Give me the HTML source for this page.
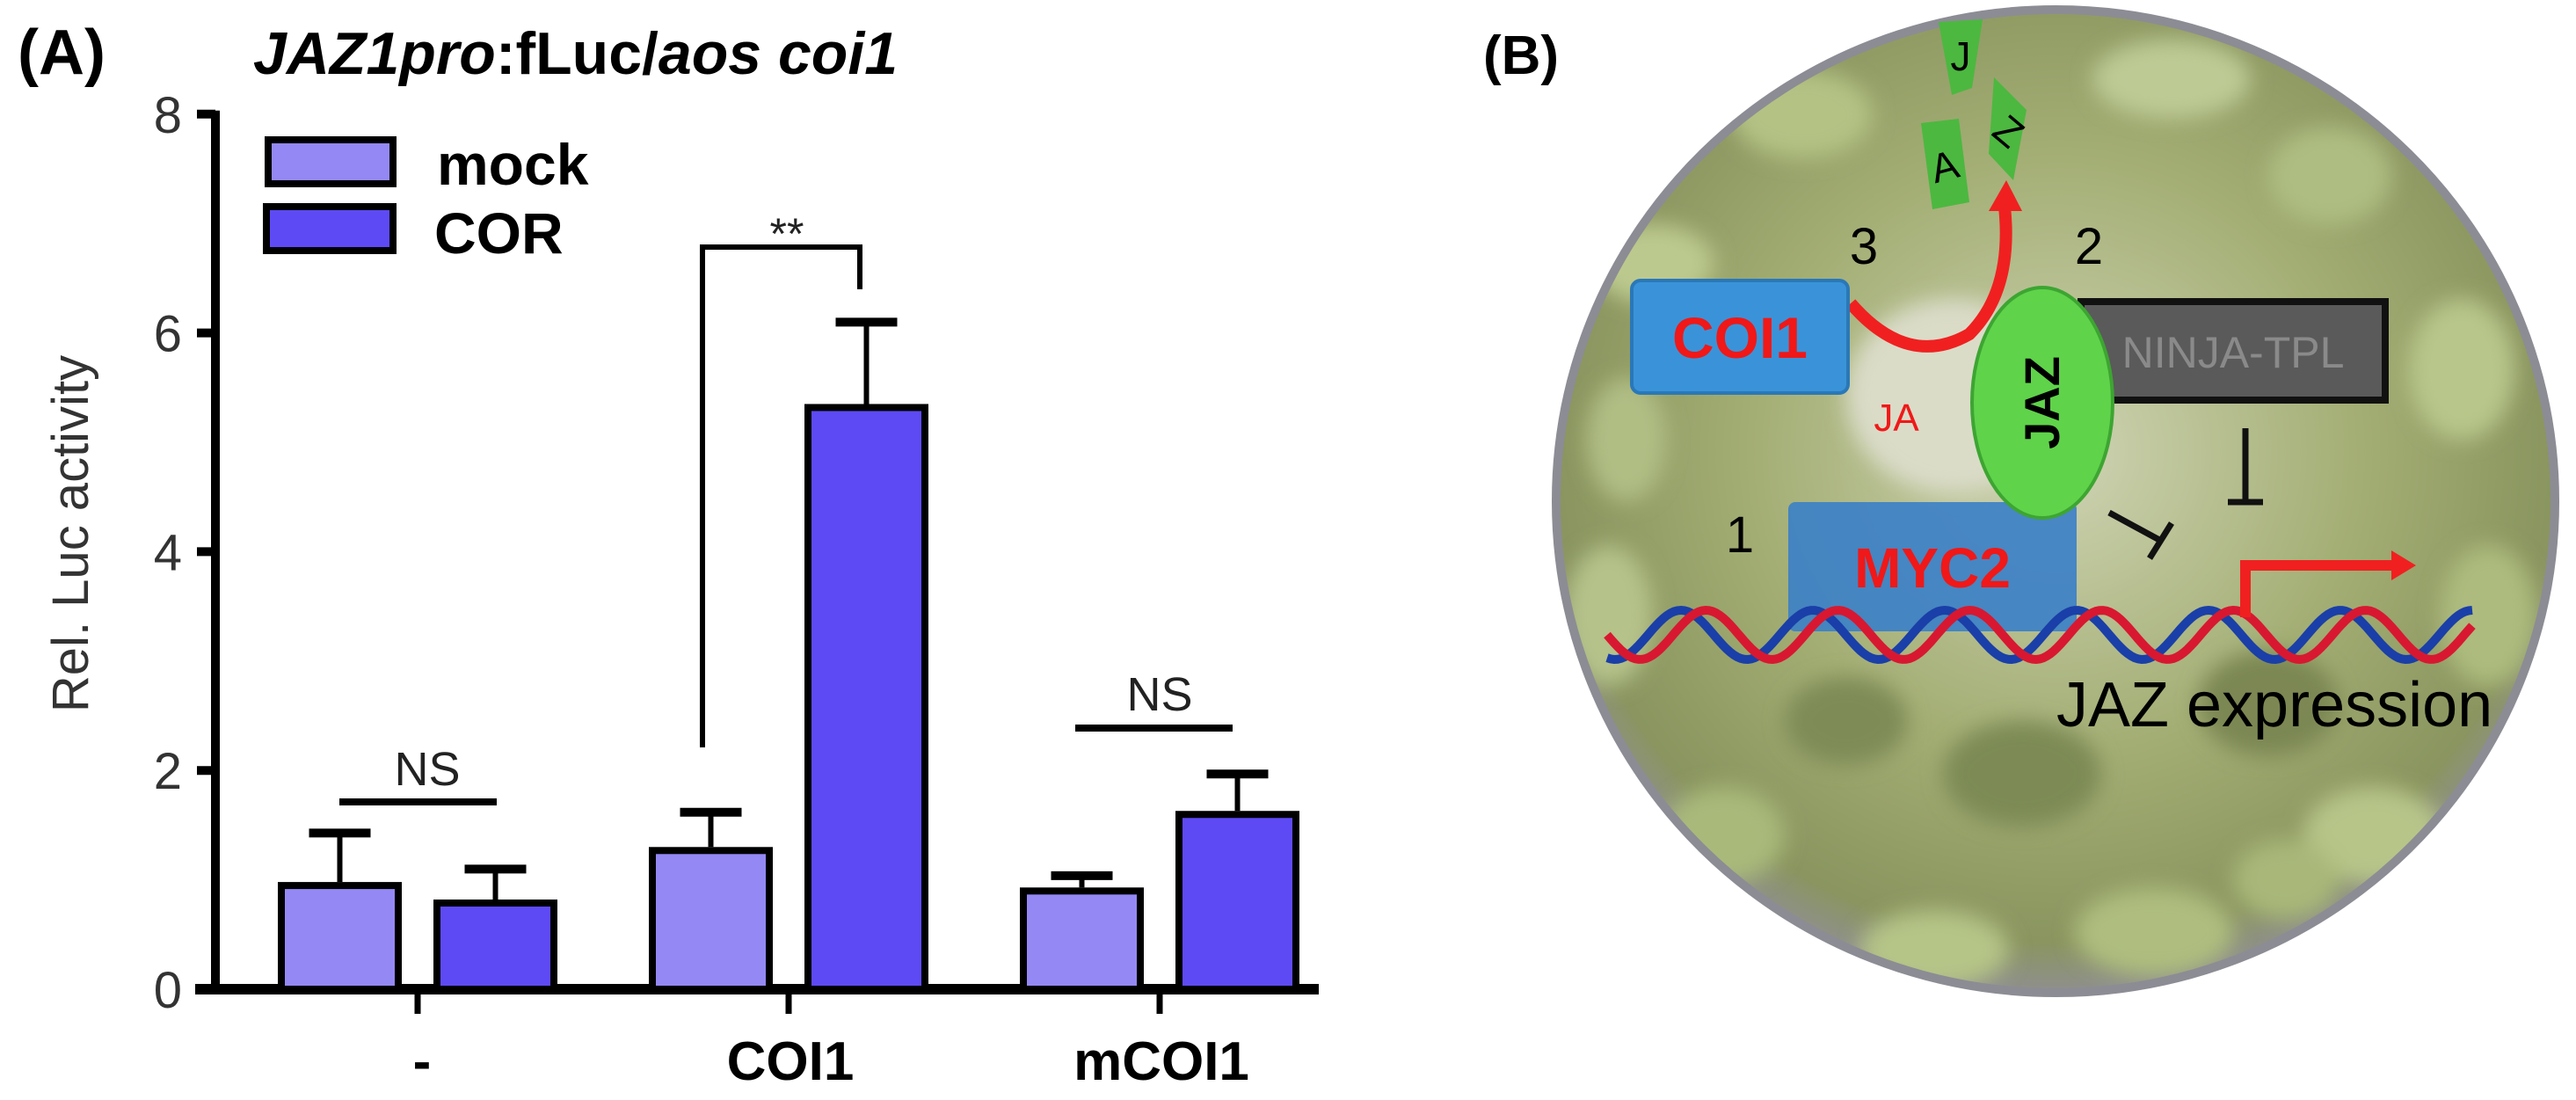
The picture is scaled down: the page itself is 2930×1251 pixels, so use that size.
<!DOCTYPE html>
<html><head><meta charset="utf-8"><style>
html,body{margin:0;padding:0;background:#fff;}
svg{display:block;}
text{font-family:"Liberation Sans",sans-serif;}
</style></head><body>
<svg id="fig" width="2930" height="1251" viewBox="0 0 2930 1251">
<defs>
<radialGradient id="cellbg" cx="50%" cy="45%" r="55%">
<stop offset="0" stop-color="#cfd4b4"/>
<stop offset="0.55" stop-color="#a3ae74"/>
<stop offset="0.9" stop-color="#8a955f"/>
<stop offset="1" stop-color="#8f8f92"/>
</radialGradient>
<filter id="blur"><feGaussianBlur stdDeviation="12"/></filter>
<clipPath id="cellclip"><ellipse cx="2338" cy="570" rx="572" ry="563"/></clipPath>
</defs>

<!-- Panel A -->
<g id="panelA">
<text x="20" y="84" font-size="72" font-weight="bold">(A)</text>
<text x="288" y="84" font-size="68" font-weight="bold"><tspan font-style="italic">JAZ1pro</tspan>:fLuc/<tspan font-style="italic">aos coi1</tspan></text>
<text transform="translate(100,607) rotate(-90)" text-anchor="middle" font-size="58" fill="#333">Rel. Luc activity</text>
<g id="axes"></g>
<g id="bars"></g>
<g id="legend">
<rect x="305" y="159" width="142" height="50" fill="#9488f5" stroke="#000" stroke-width="8"/>
<text x="497" y="210" font-size="66" font-weight="bold">mock</text>
<rect x="303" y="235" width="144" height="50" fill="#5e4af5" stroke="#000" stroke-width="8"/>
<text x="494" y="288" font-size="66" font-weight="bold">COR</text>
</g>
<g id="sig">
<line x1="386" y1="912" x2="565" y2="912" stroke="#000" stroke-width="8"/>
<text x="486" y="893" font-size="54" text-anchor="middle" fill="#222">NS</text>
<polyline points="799,850 799,281 978,281 978,329" fill="none" stroke="#000" stroke-width="6"/>
<text x="895" y="283" font-size="50" text-anchor="middle" fill="#222">**</text>
<line x1="1223" y1="828" x2="1402" y2="828" stroke="#000" stroke-width="8"/>
<text x="1319" y="808" font-size="54" text-anchor="middle" fill="#222">NS</text>
</g>
</g>

<!-- Panel B -->
<g id="panelB">
<text x="1687" y="84" font-size="62" font-weight="bold">(B)</text>
<ellipse cx="2338" cy="570" rx="572" ry="563" fill="url(#cellbg)"/>
<g clip-path="url(#cellclip)" filter="url(#blur)">
<ellipse cx="1880" cy="300" rx="70" ry="45" fill="#bcc98e"/>
<ellipse cx="2050" cy="130" rx="80" ry="50" fill="#b4c284"/>
<ellipse cx="2470" cy="90" rx="90" ry="45" fill="#bdca94"/>
<ellipse cx="2650" cy="200" rx="70" ry="55" fill="#aebd82"/>
<ellipse cx="2800" cy="420" rx="60" ry="80" fill="#b8c68b"/>
<ellipse cx="2830" cy="700" rx="55" ry="80" fill="#adbb7e"/>
<ellipse cx="2700" cy="950" rx="80" ry="55" fill="#b7c589"/>
<ellipse cx="2450" cy="1060" rx="90" ry="50" fill="#afbe7f"/>
<ellipse cx="2200" cy="1080" rx="85" ry="45" fill="#b5c487"/>
<ellipse cx="1960" cy="950" rx="70" ry="55" fill="#a9b97a"/>
<ellipse cx="1830" cy="700" rx="50" ry="80" fill="#b5c28a"/>
<ellipse cx="1850" cy="500" rx="45" ry="70" fill="#b0be84"/>
<ellipse cx="2600" cy="1000" rx="60" ry="45" fill="#a9b879"/>
<ellipse cx="2300" cy="880" rx="90" ry="60" fill="#7d8a55"/>
<ellipse cx="2580" cy="800" rx="80" ry="60" fill="#7b8752"/>
<ellipse cx="2100" cy="820" rx="70" ry="50" fill="#7f8b56"/>
<ellipse cx="2220" cy="450" rx="120" ry="110" fill="#dadcc8"/>
</g>
<ellipse cx="2338" cy="570" rx="568" ry="559" fill="none" stroke="#8c8c94" stroke-width="10"/>

<path d="M2105,345 Q2170,420 2240,380 Q2290,330 2280,235" fill="none" stroke="#f02020" stroke-width="14"/>
<polygon points="2262,240 2282,205 2300,240" fill="#f02020"/>
<g>
<polygon points="2205,25 2255,22 2243,100 2220,108" fill="#4cb840"/>
<text x="2230" y="80" font-size="46" text-anchor="middle">J</text>
<polygon points="2185,140 2228,135 2240,230 2198,238" fill="#4cb840"/>
<text x="2212" y="205" font-size="46" text-anchor="middle" transform="rotate(-15,2212,190)">A</text>
<polygon points="2268,88 2305,125 2290,205 2262,175" fill="#4cb840"/>
<text x="2284" y="165" font-size="46" text-anchor="middle" transform="rotate(40,2284,150)">Z</text>
</g>
<text x="2120" y="300" font-size="58" text-anchor="middle">3</text>
<text x="2376" y="300" font-size="58" text-anchor="middle">2</text>
<text x="1979" y="628" font-size="58" text-anchor="middle">1</text>

<rect x="1856" y="319" width="246" height="128" rx="10" fill="#3a93d8" stroke="#2a78b8" stroke-width="4"/>
<text x="1979" y="407" font-size="66" font-weight="bold" text-anchor="middle" fill="#f01818">COI1</text>
<text x="2157" y="490" font-size="44" text-anchor="middle" fill="#f01818">JA</text>

<rect x="2367" y="343" width="346" height="112" fill="#5a5a5a" stroke="#111" stroke-width="8"/>
<text x="2540" y="418" font-size="50" text-anchor="middle" fill="#8a8a8a">NINJA-TPL</text>

<rect x="2034" y="571" width="328" height="147" rx="8" fill="#3a80c8" opacity="0.9"/>
<text x="2198" y="668" font-size="64" font-weight="bold" text-anchor="middle" fill="#f01818">MYC2</text>

<ellipse cx="2323" cy="458" rx="80" ry="131" fill="#5fd34a" stroke="#3da532" stroke-width="4"/>
<text transform="translate(2342,458) rotate(-90)" font-size="56" font-weight="bold" text-anchor="middle">JAZ</text>

<g stroke="#111" stroke-width="7" fill="none">
<line x1="2554" y1="487" x2="2554" y2="571"/><line x1="2534" y1="571" x2="2574" y2="571"/>
<line x1="2399" y1="583" x2="2458" y2="615"/><line x1="2445" y1="635" x2="2470" y2="595"/>
</g>
<g id="dna"></g>
<polyline points="2554,702 2554,643 2725,643" fill="none" stroke="#f02020" stroke-width="12"/>
<polygon points="2720,626 2748,643 2720,660" fill="#f02020"/>
<text x="2339" y="826" font-size="72">JAZ expression</text>
</g>
</svg>
<script>
const categories = ["-", "COI1", "mCOI1"];
const mockValues = [0.98, 1.30, 0.93];
const mockErrors = [0.48, 0.35, 0.14];
const corValues = [0.82, 5.35, 1.63];
const corErrors = [0.31, 0.78, 0.37];
const yTicks = [0, 2, 4, 6, 8];

const NS = "http://www.w3.org/2000/svg";
const y0 = 1125, unit = 124.4, axisX = 245;
function yScale(v){ return y0 - v*unit; }
function groupCenter(i){ return 475 + i*422; }
const barW = 141, gap = 36;
function mk(tag, attrs, parent){ const e=document.createElementNS(NS,tag); for(const k in attrs) e.setAttribute(k,attrs[k]); parent.appendChild(e); return e; }

const axes = document.getElementById('axes');
const yAxis = mk('line',{x1:axisX,y1:yScale(8)-4,x2:axisX,y2:y0,stroke:'#000','stroke-width':10},axes);


const xAxis = mk('line',{x1:222,y1:y0,x2:1500,y2:y0,stroke:'#000','stroke-width':12},axes);


yTicks.forEach(t=>{
  const tk = mk('line',{x1:224,y1:yScale(t),x2:axisX,y2:yScale(t),stroke:'#000','stroke-width':10},axes);
  
  
  const lb = mk('text',{x:207,y:yScale(t)+21,'font-size':58,'text-anchor':'end',fill:'#333'},axes);
  lb.textContent = t;
  
  
});
const bars = document.getElementById('bars');
categories.forEach((c,i)=>{
  const cx = groupCenter(i);
  const tk = mk('line',{x1:cx,y1:y0,x2:cx,y2:y0+28,stroke:'#000','stroke-width':7},axes);
  
  
  const lb = mk('text',{x:cx+(c==='-'?5:2),y:1228,'font-size':62,'font-weight':'bold','text-anchor':'middle'},axes);
  lb.textContent = c;
  
  
  [[mockValues[i],mockErrors[i],'#9488f5',cx-gap/2-barW,'mock'],[corValues[i],corErrors[i],'#5e4af5',cx+gap/2,'cor']].forEach(([v,e,col,x,s])=>{
    const top = yScale(v), et = yScale(v+e), mid = x+barW/2;
    const el = mk('line',{x1:mid,y1:et,x2:mid,y2:top,stroke:'#000','stroke-width':6},bars);
    
    
    const cap = mk('line',{x1:mid-35,y1:et+4,x2:mid+35,y2:et+4,stroke:'#000','stroke-width':10},bars);
    
    
    const r = mk('rect',{x:x+4,y:top+4,width:barW-8,height:y0-top-4,fill:col,stroke:'#000','stroke-width':8},bars);
    
    
  });
});
// DNA helix
const dna = document.getElementById('dna');
function helix(offset,color){
  let d='';
  for(let x=1828;x<=2814;x+=4){
    const y = 722 + 28*Math.sin((x-1828)/150*2*Math.PI + offset);
    d += (d?'L':'M')+x+','+y.toFixed(1);
  }
  const p = mk('path',{d:d,fill:'none',stroke:color,'stroke-width':10},dna);
  
  
}
helix(1.2,'#1a3fa8');
helix(0,'#d81830');
</script>
</body></html>
